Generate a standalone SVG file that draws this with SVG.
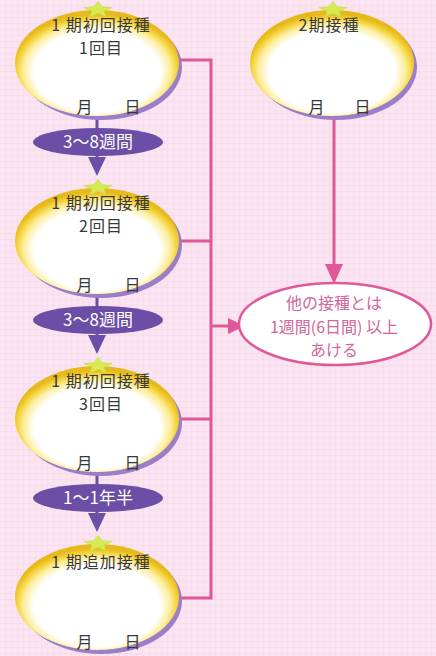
<svg xmlns="http://www.w3.org/2000/svg" width="436" height="656" viewBox="0 0 436 656">
<defs>
<pattern id="grid" width="6" height="6" patternUnits="userSpaceOnUse">
<rect width="6" height="6" fill="#fbe4f1"/>
<path d="M6 0V6M0 6H6" stroke="#f2cfe3" stroke-width="0.6" fill="none"/>
</pattern>
<radialGradient id="egg" cx="0.5" cy="0.56" r="0.52" fx="0.5" fy="0.64">
<stop offset="0" stop-color="#ffffff"/>
<stop offset="0.74" stop-color="#ffffff"/>
<stop offset="0.86" stop-color="#fcee9e"/>
<stop offset="0.94" stop-color="#f4d238"/>
<stop offset="1" stop-color="#e6b91c"/>
</radialGradient>
<g id="star"><polygon points="0,-10 4,-3 14,-2 6,3 8,10 0,6 -8,10 -6,3 -14,-2 -4,-3" fill="#d8ea52" stroke="#c8dc44" stroke-width="0.8"/></g>
</defs>
<style>
.shadow{fill:#9b7dc8}
.egg{fill:url(#egg)}
.t{font-family:"Noto Sans CJK JP","Noto Sans",sans-serif;font-size:16px;letter-spacing:1px;fill:#383838;text-anchor:middle}
.lbl{fill:#6b4ea6}
.lt{font-family:"Noto Sans CJK JP","Noto Sans",sans-serif;font-size:17px;fill:#fff;text-anchor:middle}
.pv{stroke:#6b4ea6;stroke-width:3;fill:none}
.ph{fill:#6b4ea6}
.pk{stroke:#e0589a;stroke-width:3;fill:none}
.pkh{fill:#e0589a}
.pt{font-family:"Noto Sans CJK JP","Noto Sans",sans-serif;font-size:16px;fill:#d0679a;text-anchor:middle}
</style>
<rect width="436" height="656" fill="url(#grid)"/>

<g id="connectors">
<path class="pk" d="M179 60H211V598H179M179 241H211M179 419H211M211 326H230"/>
<polygon class="pkh" points="228,318 245,326 228,334"/>
<path class="pk" d="M334 116V266"/>
<polygon class="pkh" points="325,264 334,284 343,264"/>
<path class="pv" d="M97 114V160M97 292V338M97 470V516"/>
<polygon class="ph" points="88,157 106,157 97,176"/>
<polygon class="ph" points="88,335 106,335 97,354"/>
<polygon class="ph" points="88,513 106,513 97,532"/>
</g>

<g id="n1">
<ellipse class="shadow" cx="101" cy="67" rx="81" ry="53"/>
<ellipse class="egg" cx="97" cy="63" rx="82" ry="53"/>
<use href="#star" transform="translate(98,9) scale(1,0.75)"/>
<text class="t" x="101" y="31">1 期初回接種</text>
<text class="t" x="101" y="54">1回目</text>
<text class="t" x="85" y="113">月</text>
<text class="t" x="133" y="113">日</text>
</g>

<g id="l1">
<ellipse class="lbl" cx="98" cy="142" rx="65" ry="14"/>
<text class="lt" x="98" y="148">3〜8週間</text>
</g>

<g id="n2">
<ellipse class="shadow" cx="101" cy="245" rx="81" ry="53"/>
<ellipse class="egg" cx="97" cy="241" rx="82" ry="53"/>
<use href="#star" transform="translate(98,187) scale(1,0.75)"/>
<text class="t" x="101" y="209">1 期初回接種</text>
<text class="t" x="101" y="232">2回目</text>
<text class="t" x="85" y="291">月</text>
<text class="t" x="133" y="291">日</text>
</g>

<g id="l2">
<ellipse class="lbl" cx="98" cy="320" rx="65" ry="14"/>
<text class="lt" x="98" y="326">3〜8週間</text>
</g>

<g id="n3">
<ellipse class="shadow" cx="101" cy="423" rx="81" ry="53"/>
<ellipse class="egg" cx="97" cy="419" rx="82" ry="53"/>
<use href="#star" transform="translate(98,365) scale(1,0.75)"/>
<text class="t" x="101" y="387">1 期初回接種</text>
<text class="t" x="101" y="410">3回目</text>
<text class="t" x="85" y="469">月</text>
<text class="t" x="133" y="469">日</text>
</g>

<g id="l3">
<ellipse class="lbl" cx="98" cy="498" rx="65" ry="14"/>
<text class="lt" x="98" y="504">1〜1年半</text>
</g>

<g id="n4">
<ellipse class="shadow" cx="101" cy="601" rx="81" ry="53"/>
<ellipse class="egg" cx="97" cy="597" rx="82" ry="53"/>
<use href="#star" transform="translate(98,543) scale(1,0.75)"/>
<text class="t" x="101" y="568">1 期追加接種</text>
<text class="t" x="85" y="648">月</text>
<text class="t" x="133" y="648">日</text>
</g>

<g id="n5">
<ellipse class="shadow" cx="336" cy="67" rx="81" ry="53"/>
<ellipse class="egg" cx="332" cy="63" rx="82" ry="53"/>
<use href="#star" transform="translate(333,9) scale(1,0.75)"/>
<text class="t" x="329" y="31">2期接種</text>
<text class="t" x="317" y="113">月</text>
<text class="t" x="363" y="113">日</text>
</g>

<g id="n6">
<ellipse cx="335" cy="324" rx="96" ry="41" fill="#fff" stroke="#e0589a" stroke-width="2.5"/>
<text class="pt" x="334" y="309">他の接種とは</text>
<text class="pt" x="334" y="333">1週間(6日間) 以上</text>
<text class="pt" x="334" y="356">あける</text>
</g>
</svg>
